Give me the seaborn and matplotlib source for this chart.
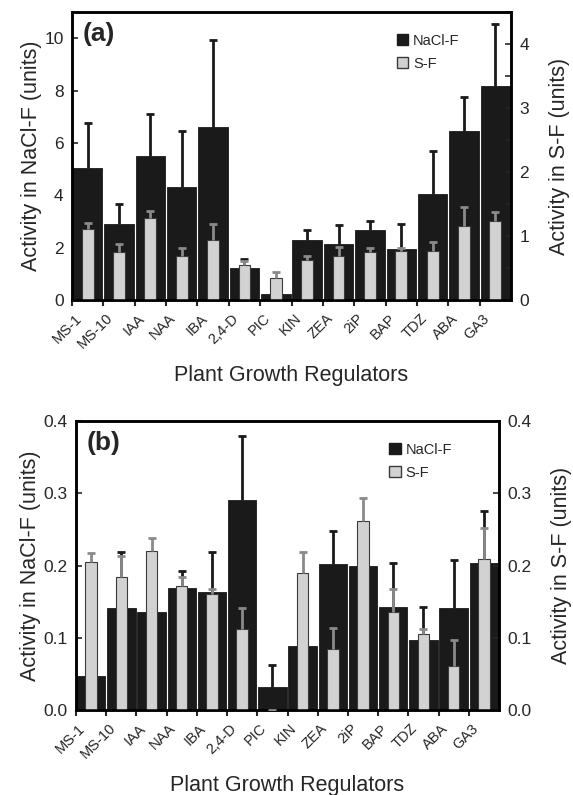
import numpy as np
import pandas as pd
import matplotlib
matplotlib.use("Agg")
import matplotlib.pyplot as plt
import matplotlib.transforms as mtransforms
from matplotlib.patches import Patch
from matplotlib.ticker import MultipleLocator
import seaborn as sns

sns.set_style("ticks")
plt.rcParams['font.family'] = ['Liberation Sans', 'DejaVu Sans']

# ---- data ----
regulators = ["MS-1", "MS-10", "IAA", "NAA", "IBA", "2,4-D", "PIC",
              "KIN", "ZEA", "2iP", "BAP", "TDZ", "ABA", "GA3"]

# panel (a)
a_nacl = [5.04, 2.90, 5.51, 4.32, 6.59, 1.23, 0.22, 2.31, 2.12, 2.68, 1.93, 4.04, 6.47, 8.18]
a_nacl_err = [1.72, 0.76, 1.58, 2.15, 3.35, 0.35, 0.30, 0.36, 0.74, 0.33, 0.99, 1.65, 1.27, 2.37]
a_sf = [1.11, 0.75, 1.28, 0.69, 0.93, 0.54, 0.35, 0.63, 0.68, 0.75, 0.77, 0.76, 1.15, 1.23]
a_sf_err = [0.09, 0.13, 0.11, 0.13, 0.26, 0.07, 0.09, 0.05, 0.15, 0.07, 0.05, 0.14, 0.30, 0.15]

# panel (b)
b_nacl = [0.047, 0.141, 0.136, 0.169, 0.163, 0.291, 0.032, 0.088, 0.202, 0.200, 0.143, 0.097, 0.141, 0.204]
b_nacl_err = [0.01, 0.078, 0.01, 0.023, 0.055, 0.088, 0.030, 0.01, 0.046, 0.01, 0.060, 0.046, 0.067, 0.072]
b_sf = [0.205, 0.184, 0.220, 0.172, 0.161, 0.112, 0.0, 0.189, 0.084, 0.261, 0.136, 0.105, 0.061, 0.209]
b_sf_err = [0.012, 0.029, 0.018, 0.012, 0.007, 0.029, 0.0, 0.029, 0.030, 0.033, 0.031, 0.007, 0.036, 0.043]

BLACK = "#1a1a1a"
GREY = "#d2d2d2"
ERR_GREY = "#8a8a8a"

fig = plt.figure(figsize=(5.73, 7.95), dpi=100)


def up_errorbar(ax, x, y, err, color):
    # one-sided (upper) error bars, no cap at the bar top
    eb = ax.errorbar(x, y, yerr=[np.zeros(len(x)), err], fmt="none",
                     ecolor=color, elinewidth=2, capsize=3, capthick=2, zorder=3)
    caps = eb[1]
    if len(caps) > 1:
        caps[0].set_visible(False)


def draw_panel(rect, nacl, nacl_err, sf, sf_err, ylim_l, ylim_r, ystep_l,
               ystep_r, ystep_r_minor, letter, fmt):
    ax = fig.add_axes(rect)
    df = pd.DataFrame({"reg": regulators, "nacl": nacl, "sf": sf})
    x = np.arange(len(regulators))

    sns.barplot(data=df, x="reg", y="nacl", order=regulators, color=BLACK,
                saturation=1, width=0.94, edgecolor=BLACK, linewidth=0.6, ax=ax)
    up_errorbar(ax, x, nacl, nacl_err, BLACK)

    ax2 = ax.twinx()
    sns.barplot(data=df, x="reg", y="sf", order=regulators, color=GREY,
                saturation=1, width=0.38, edgecolor="#3a3a3a", linewidth=0.8, ax=ax2)
    up_errorbar(ax2, x, sf, sf_err, ERR_GREY)

    ax.set_xlim(-0.5, len(regulators) - 0.5)
    ax.set_ylim(*ylim_l)
    ax2.set_ylim(*ylim_r)
    ax.yaxis.set_major_locator(MultipleLocator(ystep_l))
    ax2.yaxis.set_major_locator(MultipleLocator(ystep_r))
    if ystep_r_minor:
        ax2.yaxis.set_minor_locator(MultipleLocator(ystep_r_minor))
    ax.yaxis.set_major_formatter(fmt)
    ax2.yaxis.set_major_formatter(fmt)

    # x ticks: marks at boundaries, labels at centres
    ax.set_xticks(x)
    ax.set_xticklabels(regulators, rotation=45, ha="right", rotation_mode="anchor",
                       fontsize=10.5)
    ax.set_xticks(np.arange(len(regulators)) - 0.5, minor=True)
    ax.tick_params(axis="x", which="major", length=0, pad=8)
    ax.tick_params(axis="x", which="minor", length=4, width=1.5, direction="out")
    ax.tick_params(axis="y", direction="in", length=4, width=1.2, labelsize=12.5,
                   pad=6)
    ax2.tick_params(axis="y", which="both", direction="in", length=4, width=1.2,
                    labelsize=12.5, pad=6)
    # nudge rotated labels left (after tick_params, which resets transforms)
    shift = mtransforms.ScaledTranslation(-13 / 100, 0, fig.dpi_scale_trans)
    for lab in ax.get_xticklabels():
        lab.set_transform(lab.get_transform() + shift)

    ax.set_xlabel("Plant Growth Regulators", fontsize=15.5, labelpad=10)
    ax.set_ylabel("Activity in NaCl-F (units)", fontsize=15.5, labelpad=2)
    ax2.set_ylabel("Activity in S-F (units)", fontsize=15.5, labelpad=14)
    ax2.set_xlabel("")

    for a in (ax, ax2):
        for s in a.spines.values():
            s.set_linewidth(1.8)
            s.set_color("black")

    ax.text(0.025, 0.965, letter, transform=ax.transAxes, fontsize=19,
            fontweight="bold", va="top", ha="left")

    handles = [Patch(facecolor=BLACK, edgecolor=BLACK, label="NaCl-F"),
               Patch(facecolor=GREY, edgecolor="#3a3a3a", label="S-F")]
    ax2.legend(handles=handles, loc="upper left", bbox_to_anchor=(0.71, 0.97),
               frameon=False, fontsize=10.5, handlelength=0.8, handleheight=0.8,
               handletextpad=0.3, labelspacing=0.6)
    return ax, ax2


draw_panel([72 / 573, 1 - 300 / 795, 439 / 573, 288 / 795],
           a_nacl, a_nacl_err, a_sf, a_sf_err,
           (0, 11), (0, 4.5), 2, 1, 0.5, "(a)", "{x:.0f}")

draw_panel([76 / 573, 1 - 710 / 795, 423 / 573, 289 / 795],
           b_nacl, b_nacl_err, b_sf, b_sf_err,
           (0, 0.4), (0, 0.4), 0.1, 0.1, None, "(b)", "{x:.1f}")

fig.savefig("out.png", dpi=100)
